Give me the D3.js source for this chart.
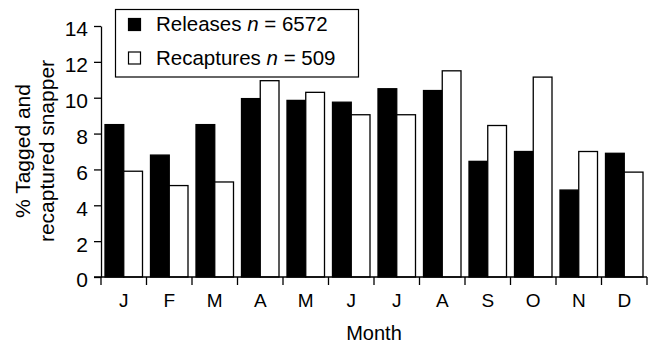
<!DOCTYPE html>
<html>
<head>
<meta charset="utf-8">
<script src="https://cdn.jsdelivr.net/npm/d3@7/dist/d3.min.js"></script>
<style>
  body { margin: 0; background: #fff; }
  text { font-family: "Liberation Sans", Arial, sans-serif; fill: #000; }
</style>
</head>
<body>
<svg id="chart" width="648" height="345"></svg>
<script>
// month labels, one per band
const months = ["J", "F", "M", "A", "M", "J", "J", "A", "S", "O", "N", "D"]
// % of tagged fish released / recaptured per month
const releases   = [8.5, 6.8, 8.5, 9.95, 9.85, 9.75, 10.5, 10.4, 6.45, 7.0, 4.85, 6.9]
const recaptures = [5.9, 5.1, 5.3, 10.95, 10.3, 9.05, 9.05, 11.5, 8.45, 11.15, 7.0, 5.85]
const yTicks = [0, 2, 4, 6, 8, 10, 12, 14]
const seriesNames = ["Releases", "Recaptures"]
const seriesN = [6572, 509]

const svg = d3.select("#chart")
const m = {left: 101, right: 1, top: 26, bottom: 68}
const W = 648, H = 345

// band per month - use index as key, since month letters repeat
const x = d3.scaleBand().domain(d3.range(months.length)).range([m.left, W - m.right]).padding(0)
const y = d3.scaleLinear().domain([0, 14]).range([H - m.bottom, m.top])
const xs = d3.scaleBand().domain([0, 1]).range([4, x.bandwidth() - 4])

const rows = months.map((mo, i) => ({i: i, vals: [releases[i], recaptures[i]]}))

// bars
const g = svg.append("g")
g.selectAll("g.month").data(rows).join("g")
  .attr("class", "month")
  .attr("transform", d => `translate(${x(d.i)},0)`)
  .selectAll("rect").data(d => d.vals.map((v, k) => ({k: k, v: v}))).join("rect")
    .attr("x", d => xs(d.k))
    .attr("width", xs.bandwidth())
    .attr("y", d => y(d.v))
    .attr("height", d => y(0) - y(d.v))
    .attr("fill", d => d.k === 0 ? "#000" : "#fff")
    .attr("stroke", "#000")
    .attr("stroke-width", 1.3)

// y axis
const yAxis = svg.append("g")
  .attr("transform", `translate(${m.left},0)`)
  .call(d3.axisLeft(y).tickValues(yTicks).tickSize(7).tickPadding(6).tickSizeOuter(0))
yAxis.select(".domain").attr("stroke-width", 1.3)
yAxis.selectAll(".tick line").attr("stroke-width", 1.3)
yAxis.selectAll(".tick text").style("font-size", "21px").attr("dy", "0.47em")

// x axis - ticks on band boundaries, labels in band centres
const xAxisG = svg.append("g").attr("transform", `translate(0,${y(0)})`)
xAxisG.append("line")
  .attr("x1", m.left - 7).attr("x2", W - m.right)
  .attr("stroke", "#000").attr("stroke-width", 1.3)
const bounds = d3.range(months.length + 1).map(i => i < months.length ? x(i) : x(i - 1) + x.bandwidth())
xAxisG.selectAll("line.tk").data(bounds).join("line")
  .attr("class", "tk")
  .attr("x1", d => d).attr("x2", d => d)
  .attr("y1", 0).attr("y2", 8)
  .attr("stroke", "#000").attr("stroke-width", 1.3)
xAxisG.selectAll("text").data(rows).join("text")
  .attr("x", d => x(d.i) + x.bandwidth() / 2)
  .attr("y", 30)
  .attr("text-anchor", "middle")
  .style("font-size", "19px")
  .text(d => months[d.i])

// axis titles
svg.append("text")
  .attr("x", 374).attr("y", 340)
  .attr("text-anchor", "middle").style("font-size", "20px")
  .text("Month")
const yt = svg.append("text")
  .attr("transform", `translate(0,151) rotate(-90)`)
  .attr("text-anchor", "middle").style("font-size", "21px")
yt.append("tspan").attr("x", 0).attr("y", 30).text("% Tagged and")
yt.append("tspan").attr("x", 0).attr("y", 54).text("recaptured snapper")

// legend
const lg = svg.append("g")
lg.append("rect")
  .attr("x", 115.5).attr("y", 9.5).attr("width", 243).attr("height", 67.5)
  .attr("fill", "#fff").attr("stroke", "#000").attr("stroke-width", 1.2)
seriesNames.forEach((name, k) => {
  const top = 18.5 + k * 33.5
  lg.append("rect")
    .attr("x", 128.5).attr("y", top).attr("width", 12).attr("height", 12)
    .attr("fill", k === 0 ? "#000" : "#fff").attr("stroke", "#000").attr("stroke-width", 1.2)
  const t = lg.append("text").attr("x", 156).attr("y", 31 + k * 34).style("font-size", "20.5px")
  t.append("tspan").text(name + " ")
  t.append("tspan").style("font-style", "italic").text("n")
  t.append("tspan").text(" = " + seriesN[k])
})
</script>
</body>
</html>
